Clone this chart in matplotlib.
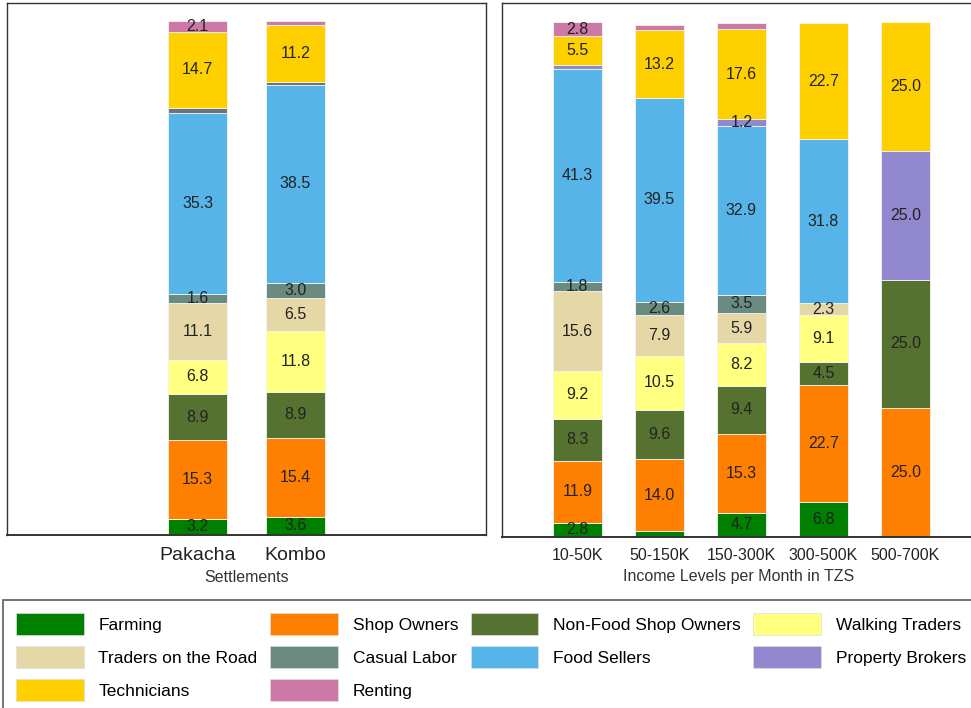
import matplotlib
matplotlib.use("Agg")
import matplotlib.pyplot as plt
from matplotlib.patches import Patch
import numpy as np

plt.rcParams['font.family'] = ['Liberation Sans', 'DejaVu Sans']

categories = ["Farming", "Shop Owners", "Non-Food Shop Owners", "Walking Traders",
              "Traders on the Road", "Casual Labor", "Food Sellers",
              "Property Brokers", "Technicians", "Renting"]
colors = ["#008000", "#FF8000", "#557230", "#FFFF80", "#E5D8A6", "#6A8B80",
          "#56B4E9", "#9188CF", "#FFD000", "#CC79A7"]
left_property_color = "#6E7378"

settlements = ["Pakacha", "Kombo"]
settle_vals = {
    "Farming":              [3.2, 3.6],
    "Shop Owners":          [15.3, 15.4],
    "Non-Food Shop Owners": [8.9, 8.9],
    "Walking Traders":      [6.8, 11.8],
    "Traders on the Road":  [11.1, 6.5],
    "Casual Labor":         [1.6, 3.0],
    "Food Sellers":         [35.3, 38.5],
    "Property Brokers":     [1.1, 0.6],
    "Technicians":          [14.7, 11.2],
    "Renting":              [2.1, 0.7],
}

incomes = ["10-50K", "50-150K", "150-300K", "300-500K", "500-700K"]
income_vals = {
    "Farming":              [2.8, 1.1, 4.7, 6.8, 0.0],
    "Shop Owners":          [11.9, 14.0, 15.3, 22.7, 25.0],
    "Non-Food Shop Owners": [8.3, 9.6, 9.4, 4.5, 25.0],
    "Walking Traders":      [9.2, 10.5, 8.2, 9.1, 0.0],
    "Traders on the Road":  [15.6, 7.9, 5.9, 2.3, 0.0],
    "Casual Labor":         [1.8, 2.6, 3.5, 0.0, 0.0],
    "Food Sellers":         [41.3, 39.5, 32.9, 31.8, 0.0],
    "Property Brokers":     [0.8, 0.0, 1.2, 0.0, 25.0],
    "Technicians":          [5.5, 13.2, 17.6, 22.7, 25.0],
    "Renting":              [2.8, 1.0, 1.1, 0.0, 0.0],
}

fig = plt.figure(figsize=(9.71, 7.08), dpi=100)
H = 708.0
W = 971.0
ax1 = fig.add_axes([7 / W, 1 - 535 / H, (486 - 7) / W, (535 - 3) / H])
ax2 = fig.add_axes([502 / W, 1 - 537 / H, (975 - 502) / W, (537 - 3) / H])


def draw(ax, labels, vals, left_panel):
    x = np.arange(len(labels))
    bottom = np.zeros(len(labels))
    for cat, col in zip(categories, colors):
        v = np.array(vals[cat], dtype=float)
        c = left_property_color if (left_panel and cat == "Property Brokers") else col
        bars = ax.bar(x, v, 0.6, bottom=bottom, color=c, edgecolor="#f4f4f4",
                      linewidth=0.6)
        for b, val in zip(bars, v):
            if val >= 1.2:
                ax.text(b.get_x() + b.get_width() / 2, b.get_y() + val / 2,
                        f"{val:.1f}", ha="center", va="center", fontsize=11.5,
                        color="#222222")
        bottom += v
    ax.set_xticks(x)
    ax.set_xticklabels(labels)
    ax.set_yticks([])
    ax.set_ylim(0, 103.7)
    for s in ax.spines.values():
        s.set_color("#333333")
        s.set_linewidth(1.0)
    ax.spines["bottom"].set_linewidth(1.4)
    ax.tick_params(axis="x", length=0, pad=8)


draw(ax1, settlements, settle_vals, True)
ax1.set_xlim(-1.95, 2.95)
ax1.tick_params(axis="x", labelsize=14, pad=9, colors="#222222")
ax1.set_xlabel("Settlements", fontsize=11.5, color="#333333", labelpad=4)

draw(ax2, incomes, income_vals, False)
ax2.set_xlim(-0.92, 4.85)
ax2.tick_params(axis="x", labelsize=11.5, pad=8, colors="#222222")
ax2.set_xlabel("Income Levels per Month in TZS", fontsize=11.5, color="#333333",
               labelpad=4)

handles = {c: Patch(facecolor=col, edgecolor="#dddddd", linewidth=0.5)
           for c, col in zip(categories, colors)}
order = ["Farming", "Traders on the Road", "Technicians",
         "Shop Owners", "Casual Labor", "Renting",
         "Non-Food Shop Owners", "Food Sellers",
         "Walking Traders", "Property Brokers"]
leg = fig.legend([handles[o] for o in order], order, ncol=4,
                 loc="upper left", bbox_to_anchor=(3 / W, 1 - 600 / H),
                 fontsize=12.5, frameon=True, fancybox=False,
                 handlelength=3.9, handleheight=1.6, handletextpad=0.85,
                 columnspacing=0.72, labelspacing=0.62, borderpad=0.75,
                 borderaxespad=0)
leg.get_frame().set_edgecolor("#333333")
leg.get_frame().set_linewidth(1.2)

fig.savefig("out.png", dpi=100)
